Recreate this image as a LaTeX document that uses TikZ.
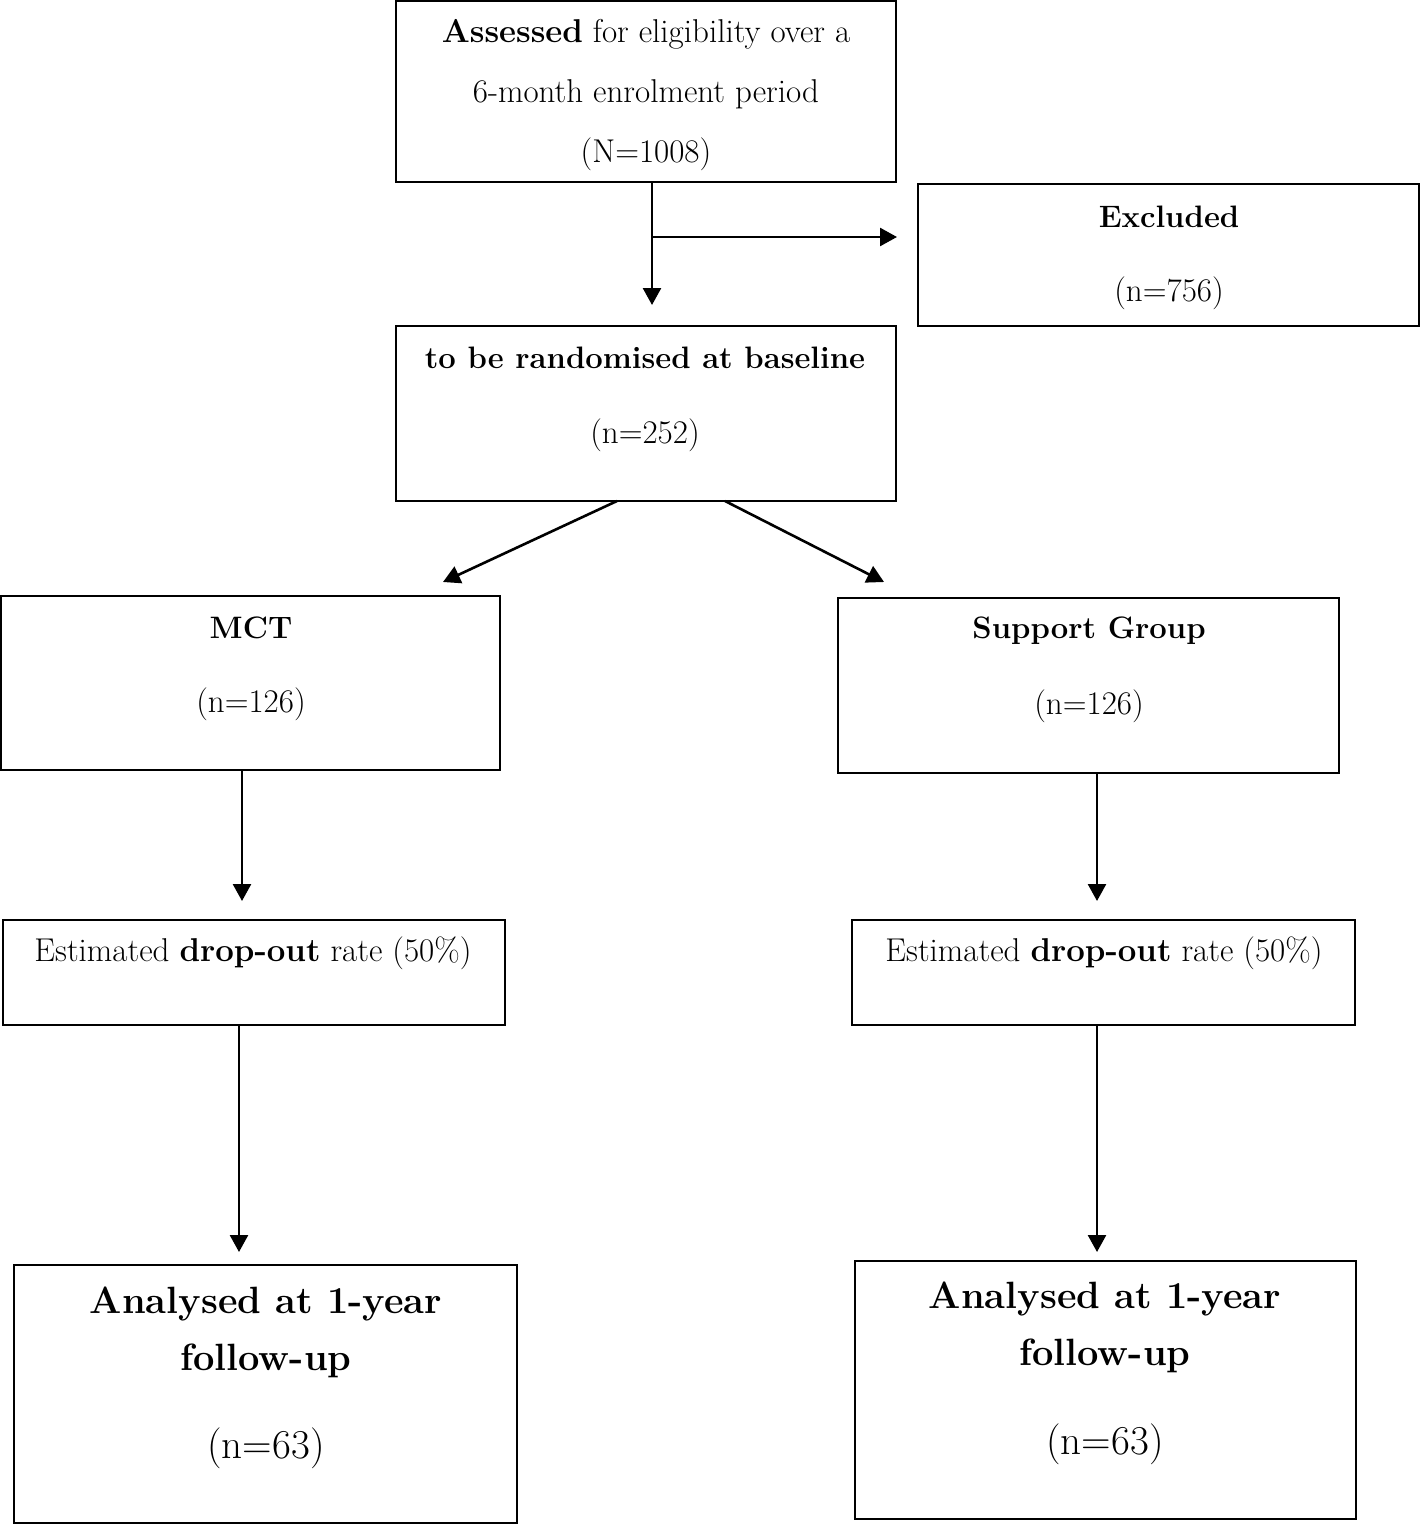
\documentclass[tikz,border=0pt]{standalone}
\usetikzlibrary{arrows.meta,calc,positioning}

\begin{document}
\begin{tikzpicture}[x=0.5pt,y=-0.5pt,
  box/.style={draw,rectangle,line width=1.2pt,outer sep=0pt,inner sep=0pt},
  txt/.style={font=\fontsize{16.5}{30}\selectfont,align=center,inner sep=0pt},
  head/.style={font=\fontsize{15.5}{30}\selectfont\bfseries,align=center,inner sep=0pt},
  big/.style={font=\fontsize{19}{28.5}\selectfont\bfseries,align=center,inner sep=0pt},
  bignum/.style={font=\fontsize{20.5}{28.5}\selectfont,align=center,inner sep=0pt},
  arr/.style={line width=1.3pt,-{Triangle[width=9pt,length=8.5pt]}}]

        \useasboundingbox (0,0) rectangle (1420,1525);

        % boxes
        \node[box,minimum width=250pt,minimum height=90.5pt] (assess) at (646,91.5) {};
        \node[box,minimum width=250.5pt,minimum height=71pt] (excl) at (1168.5,255) {};
        \node[box,minimum width=250pt,minimum height=87.5pt] (rand) at (646,413.5) {};
        \node[box,minimum width=249.5pt,minimum height=87pt] (mct) at (250.5,683) {};
        \node[box,minimum width=250.5pt,minimum height=87.5pt] (supp) at (1088.5,685.5) {};
        \node[box,minimum width=251pt,minimum height=52.5pt] (dropL) at (254,972.5) {};
        \node[box,minimum width=251.5pt,minimum height=52.5pt] (dropR) at (1103.5,972.5) {};
        \node[box,minimum width=251.5pt,minimum height=129pt] (anaL) at (265.5,1394) {};
        \node[box,minimum width=250.5pt,minimum height=129pt] (anaR) at (1105.5,1390) {};

        % texts
        \node[txt] (assessT) at (646,95.5) {\textbf{Assessed} for eligibility over a\\6-month enrolment period\\(N=1008)};
        \node[head] (exclT) at (1169,217) {Excluded};
        \node[txt] (exclN) at (1169,293) {(n=756)};
        \node[head] (randT) at (645,358) {to be randomised at baseline};
        \node[txt] (randN) at (645,435) {(n=252)};
        \node[head] (mctT) at (251,628) {MCT};
        \node[txt] (mctN) at (251,704) {(n=126)};
        \node[head] (suppT) at (1089,631) {Support Group};
        \node[txt] (suppN) at (1089,706) {(n=126)};
        \node[txt] (dropLT) at (253,953) {Estimated \textbf{drop-out} rate (50\%)};
        \node[txt] (dropRT) at (1104,953) {Estimated \textbf{drop-out} rate (50\%)};
        \node[big] (anaLT) at (266,1332.5) {Analysed at 1-year\\follow-up};
        \node[bignum] (anaLN) at (266,1448) {(n=63)};
        \node[big] (anaRT) at (1105,1327.5) {Analysed at 1-year\\follow-up};
        \node[bignum] (anaRN) at (1105,1444) {(n=63)};

        % connectors
        \coordinate (split) at (652,237);
        \coordinate (mctTip) at (443,582);
        \coordinate (suppTip) at (884,582);

        \draw[arr,shorten >=10.5pt] (split |- assess.south) -- (split |- rand.north);
        \draw[arr,shorten >=10.5pt] (split) -- (split -| excl.west);

        \draw[arr] (rand.south -| 617,0) -- (mctTip);
        \draw[arr] (rand.south -| 725,0) -- (suppTip);

        \draw[arr,shorten >=9.5pt] (mct.south -| 242,0) -- (dropL.north -| 242,0);
        \draw[arr,shorten >=6.5pt] (dropL.south -| 239,0) -- (anaL.north -| 239,0);
        \draw[arr,shorten >=9.5pt] (supp.south -| 1097,0) -- (dropR.north -| 1097,0);
        \draw[arr,shorten >=4.5pt] (dropR.south -| 1097,0) -- (anaR.north -| 1097,0);
      \end{tikzpicture}
\end{document}
